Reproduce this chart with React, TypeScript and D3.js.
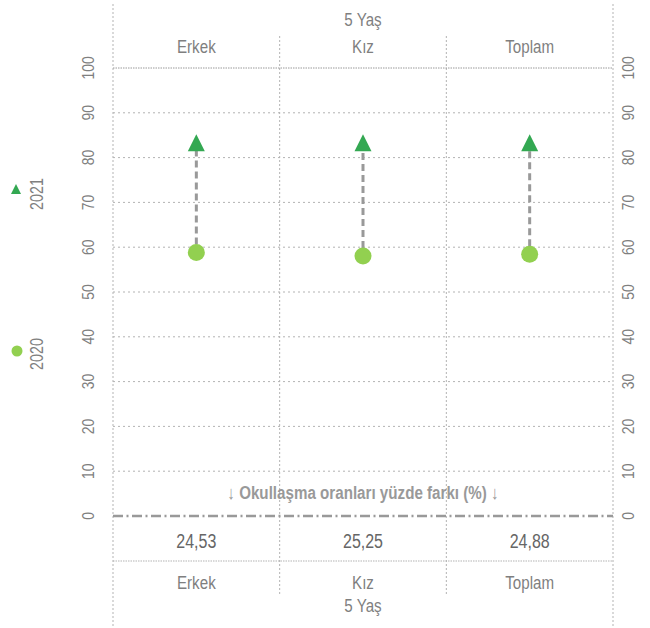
import React from "react";
import * as d3 from "d3";

const categories = ["Erkek", "Kız", "Toplam"];
const values2020 = [58.8, 58.05, 58.45];
const values2021 = [83.33, 83.3, 83.33];
const diffLabels = ["24,53", "25,25", "24,88"];
const yTicks = [0, 10, 20, 30, 40, 50, 60, 70, 80, 90, 100];
const groupLabel = "5 Yaş";
const series = ["2021", "2020"];

const W = 650;
const H = 628;
const FONT = "'Liberation Sans', Arial, sans-serif";
const GRID = "#b3b3b3";
const TXT = "#7f7f7f";
const C2021 = "#33a852";
const C2020 = "#92d050";
const SX = 0.82;

function NText(props: { x: number; y: number; rotate?: number; size: number; fill: string; bold?: boolean; children: React.ReactNode }) {
  const { x, y, rotate, size, fill, bold, children } = props;
  const tr = `translate(${x},${y})${rotate ? ` rotate(${rotate})` : ""} scale(${SX},1)`;
  return (
    <text transform={tr} textAnchor="middle" fontSize={size} fill={fill} fontWeight={bold ? "bold" : "normal"}>
      {children}
    </text>
  );
}

export default function App() {
  const x = d3.scaleBand<string>().domain(categories).range([113, 613]).padding(0);
  const y = d3.scaleLinear().domain([0, 100]).range([516, 68]);
  const left = x.range()[0];
  const right = x.range()[1];
  const bw = x.bandwidth();
  const triPath = (h: number) => `M0,${-h}L${h},${h}L${-h},${h}Z`;
  const dividers = categories.slice(1).map((c) => x(c)!);
  const mid = (left + right) / 2;

  return (
    <svg width={W} height={H} style={{ position: "absolute", left: 0, top: 0, fontFamily: FONT }}>
      {/* outer borders */}
      <line x1={left} x2={left} y1={4} y2={626} stroke={GRID} strokeDasharray="2,2" />
      <line x1={right} x2={right} y1={4} y2={626} stroke={GRID} strokeDasharray="2,2" />
      {dividers.map((d, i) => (
        <line key={"dv" + i} x1={d} x2={d} y1={36} y2={595} stroke={GRID} strokeDasharray="2,2" />
      ))}
      {/* horizontal grid */}
      {yTicks.filter((t) => t > 0).map((t) => (
        <line key={"g" + t} x1={left} x2={right} y1={y(t)} y2={y(t)} stroke={t === 100 ? "#999" : GRID} strokeDasharray={t === 100 ? "1.5,1" : "2,3"} />
      ))}
      <line x1={left} x2={right} y1={561} y2={561} stroke={GRID} strokeDasharray="1.5,1" />
      {/* zero line */}
      <line x1={left} x2={right} y1={y(0)} y2={y(0)} stroke="#999" strokeWidth={2.5} strokeDasharray="10,3.5,2,3.5" />
      {/* y tick labels */}
      {yTicks.map((t) => (
        <g key={"yl" + t}>
          <NText x={94} y={y(t)} rotate={-90} size={17} fill={TXT}>{t}</NText>
          <NText x={634} y={y(t)} rotate={-90} size={17} fill={TXT}>{t}</NText>
        </g>
      ))}
      {/* header */}
      <NText x={mid} y={26} size={18.5} fill={TXT}>{groupLabel}</NText>
      {categories.map((c) => (
        <NText key={"h" + c} x={x(c)! + bw / 2} y={53} size={18.5} fill={TXT}>{c}</NText>
      ))}
      {/* dumbbells */}
      {categories.map((c, i) => {
        const cx = x(c)! + bw / 2;
        return (
          <g key={"m" + c}>
            <line x1={cx} x2={cx} y1={y(values2020[i]) - 8} y2={y(values2021[i]) + 8} stroke="#999" strokeWidth={3} strokeDasharray="7,4" />
            <circle cx={cx} cy={y(values2020[i])} r={8.5} fill={C2020} />
            <path d={triPath(8.5)} transform={`translate(${cx},${y(values2021[i])})`} fill={C2021} />
          </g>
        );
      })}
      {/* diff caption */}
      <NText x={mid} y={499} size={18.5} fill="#999" bold>↓ Okullaşma oranları yüzde farkı (%) ↓</NText>
      {/* diff values */}
      {categories.map((c, i) => (
        <NText key={"d" + c} x={x(c)! + bw / 2} y={548} size={19.5} fill="#666">{diffLabels[i]}</NText>
      ))}
      {/* bottom labels */}
      {categories.map((c) => (
        <NText key={"b" + c} x={x(c)! + bw / 2} y={589} size={18.5} fill={TXT}>{c}</NText>
      ))}
      <NText x={mid} y={612} size={18.5} fill={TXT}>{groupLabel}</NText>
      {/* legend */}
      <path d={triPath(5)} transform="translate(16,189)" fill={C2021} />
      <NText x={43} y={194} rotate={-90} size={17.5} fill={TXT}>{series[0]}</NText>
      <circle cx={17} cy={351} r={5.5} fill={C2020} />
      <NText x={43} y={354} rotate={-90} size={17.5} fill={TXT}>{series[1]}</NText>
    </svg>
  );
}
